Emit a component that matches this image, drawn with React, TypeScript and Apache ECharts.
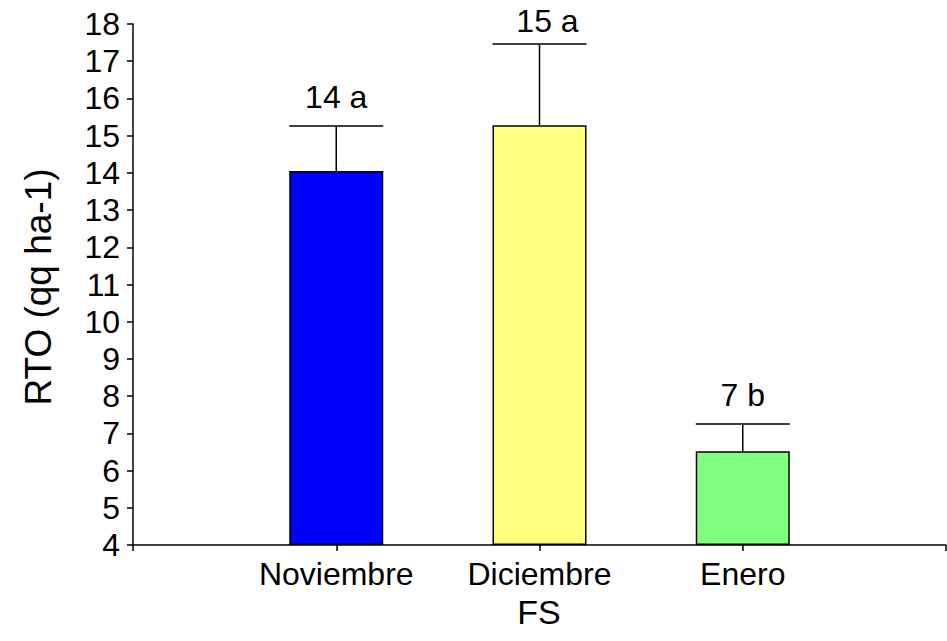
import React, { useEffect, useRef } from "react";
import * as echarts from "echarts";

const categories = ["Noviembre", "Diciembre", "Enero"];
const means = [14.05, 15.28, 6.52];
const upper = [15.26, 17.46, 7.25];
const letters = ["14 a", "15 a", "7 b"];
const yTicks = [4, 18, 1]; // min, max, interval

const colors = ["#0000FF", "#FFFF80", "#80FF80"];
const labelDx = [0, 8, 4];
const FONT = "'Liberation Sans', Arial, sans-serif";
const BAR_W = 94;

export default function App() {
  const ref = useRef<HTMLDivElement>(null);
  useEffect(() => {
    document.body.style.margin = "0";
    const chart = echarts.init(ref.current!, null, { renderer: "svg" });
    const axisData = ["", ...categories, ""];
    const barData: any[] = [null, ...means.map((v, i) => ({ value: v, itemStyle: { color: colors[i] } })), null];
    const errData = categories.map((c, i) => [i + 1, means[i], upper[i], letters[i], labelDx[i]]);
    chart.setOption({
      animation: false,
      grid: { left: 133, right: 1, top: 24, bottom: 96, containLabel: false, outerBoundsMode: "none" },
      xAxis: {
        type: "category",
        data: axisData,
        boundaryGap: false,
        axisLine: { lineStyle: { color: "#000", width: 1.5 } },
        axisTick: { show: true, length: 6, lineStyle: { color: "#000", width: 1.5 }, interval: 0 },
        axisLabel: { color: "#000", fontSize: 32, fontFamily: FONT, margin: 13, interval: 0 },
        splitLine: { show: false },
      },
      yAxis: {
        type: "value",
        min: yTicks[0],
        max: yTicks[1],
        interval: yTicks[2],
        startValue: yTicks[0],
        axisLine: { show: true, lineStyle: { color: "#000", width: 1.5 } },
        axisTick: { show: true, length: 6, lineStyle: { color: "#000", width: 1.5 } },
        axisLabel: { color: "#000", fontSize: 32, fontFamily: FONT, margin: 13 },
        splitLine: { show: false },
      },
      graphic: [
        {
          type: "text",
          x: 38,
          y: 287,
          rotation: Math.PI / 2,
          style: { text: "RTO (qq ha-1)", fontSize: 37, fontFamily: FONT, fill: "#000", align: "center", verticalAlign: "middle" },
        },
        {
          type: "text",
          x: 539,
          y: 612,
          style: { text: "FS", fontSize: 34, fontFamily: FONT, fill: "#000", align: "center", verticalAlign: "middle" },
        },
      ],
      series: [
        {
          type: "bar",
          data: barData,
          barWidth: BAR_W,
          clip: true,
          itemStyle: { borderColor: "#000", borderWidth: 1.5 },
          z: 2,
        },
        {
          type: "custom",
          data: errData,
          z: 3,
          renderItem: (params: any, api: any) => {
            const x = api.value(0);
            const top = api.coord([x, api.value(2)]);
            const base = api.coord([x, api.value(1)]);
            const dx = api.value(4);
            const cx = top[0];
            const labelY = Math.max(top[1] - 29, 21);
            return {
              type: "group",
              children: [
                { type: "line", shape: { x1: cx, y1: base[1], x2: cx, y2: top[1] }, style: { stroke: "#000", lineWidth: 1.5 } },
                { type: "line", shape: { x1: cx - BAR_W / 2, y1: top[1], x2: cx + BAR_W / 2, y2: top[1] }, style: { stroke: "#000", lineWidth: 1.5 } },
                {
                  type: "text",
                  x: cx + (labelY === 21 ? dx : 0),
                  y: labelY,
                  style: { text: String(api.value(3)), fontSize: 32, fontFamily: FONT, fill: "#000", align: "center", verticalAlign: "middle" },
                },
              ],
            };
          },
        },
      ],
    });
    return () => chart.dispose();
  }, []);
  return <div ref={ref} style={{ width: 947, height: 641, position: "absolute", left: 0, top: 0 }} />;
}
